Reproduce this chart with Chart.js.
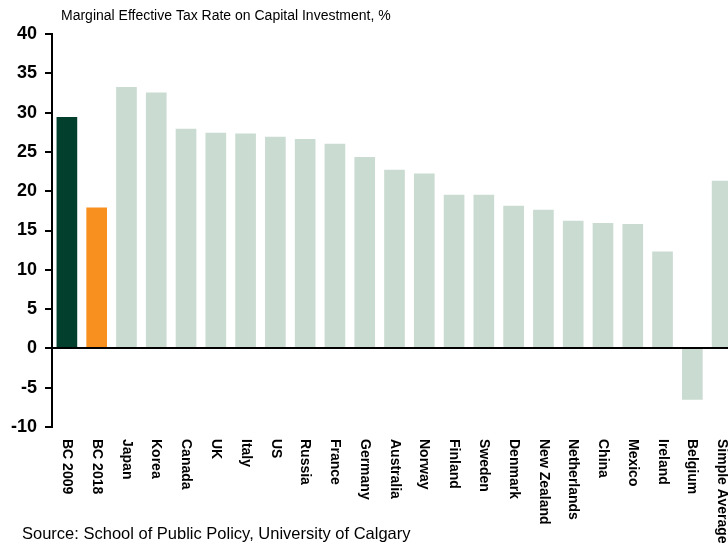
<!DOCTYPE html>
<html>
<head>
<meta charset="utf-8">
<script src="https://cdn.jsdelivr.net/npm/chart.js@4/dist/chart.umd.min.js"></script>
<style>
  html, body { margin: 0; padding: 0; overflow: hidden; background: #fff; }
  #wrap { position: relative; width: 737px; height: 546px; }
</style>
</head>
<body>
<div id="wrap"><canvas id="metrChart"></canvas></div>
<script>
const countries = ['BC 2009', 'BC 2018', 'Japan', 'Korea', 'Canada', 'UK', 'Italy', 'US', 'Russia',
  'France', 'Germany', 'Australia', 'Norway', 'Finland', 'Sweden', 'Denmark', 'New Zealand',
  'Netherlands', 'China', 'Mexico', 'Ireland', 'Belgium', 'Simple Average'];
const taxRates = [29.4, 17.9, 33.2, 32.5, 27.9, 27.4, 27.3, 26.9, 26.6,
  26.0, 24.3, 22.7, 22.2, 19.5, 19.5, 18.1, 17.6,
  16.2, 15.9, 15.8, 12.3, -6.5, 21.3];
const yTicks = [40, 35, 30, 25, 20, 15, 10, 5, 0, -5, -10];

const chartTitle = 'Marginal Effective Tax Rate on Capital Investment, %';
const sourceNote = 'Source: School of Public Policy, University of Calgary';

const barColors = countries.map((c, i) => i === 0 ? '#023f2d' : i === 1 ? '#f7901e' : '#cadbd1');

// tick marks, zero line, rotated country names, title and source line
const textPlugin = {
  id: 'textPlugin',
  afterDraw(chart) {
    const ctx = chart.ctx;
    const xs = chart.scales.x;
    const ys = chart.scales.y;
    const area = chart.chartArea;
    ctx.save();
    ctx.strokeStyle = '#000';
    ctx.lineWidth = 2;
    yTicks.forEach(v => {
      const y = Math.round(ys.getPixelForValue(v));
      ctx.beginPath();
      ctx.moveTo(area.left - 7, y);
      ctx.lineTo(area.left, y);
      ctx.stroke();
    });
    const y0 = Math.round(ys.getPixelForValue(0));
    ctx.beginPath();
    ctx.moveTo(area.left, y0);
    ctx.lineTo(area.right, y0);
    ctx.stroke();

    ctx.fillStyle = '#000';
    ctx.font = 'bold 14px "Liberation Sans", Arial, sans-serif';
    ctx.textAlign = 'left';
    ctx.textBaseline = 'middle';
    countries.forEach((name, i) => {
      const x = xs.getPixelForValue(i);
      ctx.save();
      ctx.translate(x, 439);
      ctx.rotate(Math.PI / 2);
      ctx.fillText(name, 0, 0);
      ctx.restore();
    });
    ctx.font = '14px "Liberation Sans", Arial, sans-serif';
    ctx.fillText(chartTitle, 61, 16);
    ctx.font = '16.5px "Liberation Sans", Arial, sans-serif';
    ctx.fillText(sourceNote, 22, 534);
    ctx.restore();
  }
};

new Chart(document.getElementById('metrChart'), {
  type: 'bar',
  plugins: [textPlugin],
  data: {
    labels: countries,
    datasets: [{
      data: taxRates,
      backgroundColor: barColors,
      borderWidth: 0,
      barThickness: 20
    }]
  },
  options: {
    responsive: true,
    maintainAspectRatio: false,
    animation: false,
    layout: {
      padding: { top: 34, bottom: 119, left: 0, right: 0 }
    },
    plugins: {
      legend: { display: false },
      tooltip: { enabled: false }
    },
    scales: {
      x: {
        display: false,
        offset: true
      },
      y: {
        min: -10,
        max: 40,
        afterFit(scale) { scale.width = 52; },
        afterBuildTicks(scale) {
          scale.ticks = yTicks.map(v => ({ value: v }));
        },
        border: { display: true, color: '#000', width: 2 },
        grid: { display: false },
        ticks: {
          color: '#000',
          padding: 7,
          font: { family: '"Liberation Sans", Arial, sans-serif', size: 18, weight: 'bold' }
        }
      }
    }
  }
});
</script>
</body>
</html>
